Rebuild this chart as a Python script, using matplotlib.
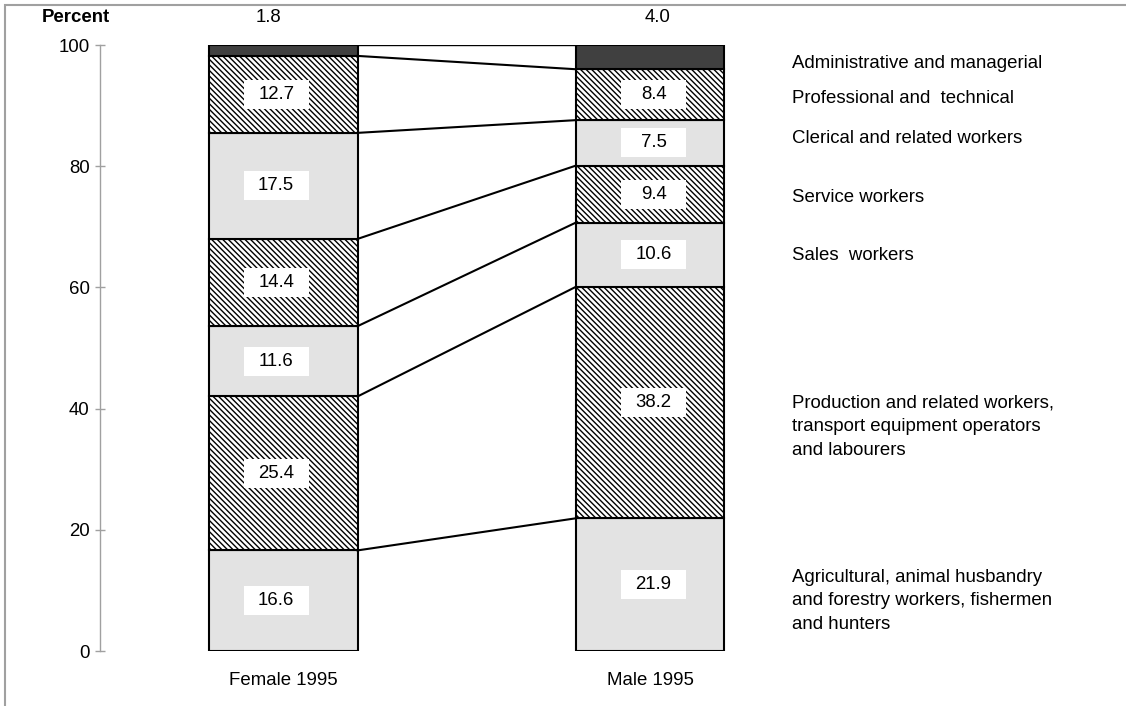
import matplotlib.pyplot as plt
from matplotlib.patches import Rectangle
import numpy as np

plt.rcParams["font.family"] = ["Liberation Sans", "DejaVu Sans"]
plt.rcParams["hatch.linewidth"] = 1.0

# data, bottom segment first
groups = ["Female 1995", "Male 1995"]
occupations = [
    "Agricultural, animal husbandry\nand forestry workers, fishermen\nand hunters",
    "Production and related workers,\ntransport equipment operators\nand labourers",
    "Sales  workers",
    "Service workers",
    "Clerical and related workers",
    "Professional and  technical",
    "Administrative and managerial",
]
female = [16.6, 25.4, 11.6, 14.4, 17.5, 12.7, 1.8]
male = [21.9, 38.2, 10.6, 9.4, 7.5, 8.4, 4.0]

# looks
fills = ["#e3e3e3", "white", "#e3e3e3", "white", "#e3e3e3", "white", "#404040"]
hatches = [None, "\\" * 6, None, "\\" * 6, None, "\\" * 6, None]
occ_label_y = [8.3, 37.0, 65.3, 74.9, 84.5, 91.1, 97.0]
bar_w = 0.404
fs = 13.4

fig = plt.figure(figsize=(11.26, 7.06), dpi=100)
ax = fig.add_axes([100 / 1126, 55 / 706, 1026 / 1126, 606 / 706])
ax.set_xlim(-0.5007, 2.299)
ax.set_ylim(0, 100)

x = np.arange(len(groups))
values = np.array([female, male])
tops = np.cumsum(values, axis=1)
bottoms = tops - values

for i in range(len(occupations)):
    ax.bar(x, values[:, i], bottom=bottoms[:, i], width=bar_w, color=fills[i],
           hatch=hatches[i], edgecolor="black", linewidth=1.5, zorder=2)

# connectors between the bars
ax.plot([x[0] + bar_w / 2, x[1] - bar_w / 2], [100, 100], color="black", lw=1, zorder=3)
for i in range(len(occupations) - 1):
    ax.plot([x[0] + bar_w / 2, x[1] - bar_w / 2], [tops[0, i], tops[1, i]],
            color="black", lw=1.5, zorder=3)

# value boxes
box_w, box_h = 0.177, 4.8
offsets = [-0.02, 0.01]
for g in range(len(groups)):
    for i in range(len(occupations) - 1):
        cx = x[g] + offsets[g]
        cy = bottoms[g, i] + values[g, i] / 2
        ax.add_patch(Rectangle((cx - box_w / 2, cy - box_h / 2), box_w, box_h,
                               facecolor="white", edgecolor="none", zorder=4))
        ax.text(cx, cy, f"{values[g, i]:.1f}", ha="center", va="center",
                fontsize=fs, zorder=5)
    ax.text(x[g] + offsets[g] * 2, 104.6, f"{values[g, -1]:.1f}", ha="center",
            va="center", fontsize=fs, clip_on=False)

# occupation labels on the right
for i, name in enumerate(occupations):
    ax.text(1.387, occ_label_y[i], name, ha="left", va="center", fontsize=fs,
            linespacing=1.5)

ax.set_xticks(x)
ax.set_xticklabels(groups, fontsize=fs)
ax.tick_params(axis="x", length=0, pad=15)
ax.set_yticks(range(0, 101, 20))
ax.tick_params(axis="y", direction="inout", length=7, width=1, color="#a0a0a0",
               labelsize=fs, pad=4)
for s in ["top", "right", "bottom"]:
    ax.spines[s].set_visible(False)
ax.spines["left"].set_color("#a0a0a0")
ax.spines["left"].set_linewidth(1)

fig.text(110 / 1126, 1 - 17 / 706, "Percent", ha="right", va="center",
         fontsize=fs, fontweight="bold")

# outer frame (top and left visible)
fig.add_artist(Rectangle((5 / 1126, -0.1), 2, 1 - 5 / 706 + 0.1,
                         transform=fig.transFigure, facecolor="none",
                         edgecolor="#a0a0a0", lw=1.5))

fig.savefig("out.png", dpi=100)
